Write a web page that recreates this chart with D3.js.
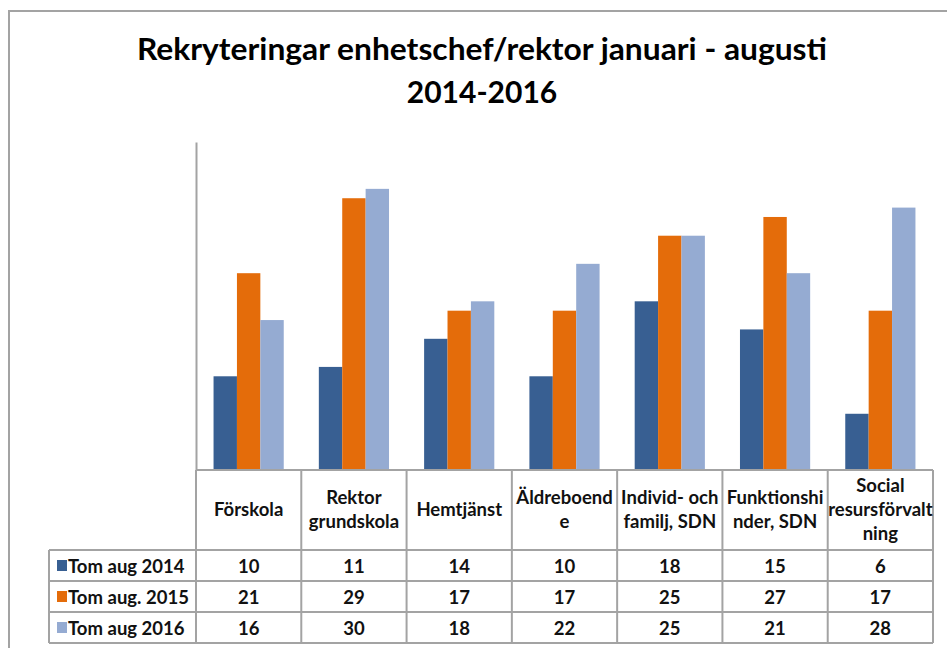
<!DOCTYPE html>
<html>
<head>
<meta charset="utf-8">
<script src="https://cdn.jsdelivr.net/npm/d3@7"></script>
<style>
  body { margin: 0; background: #fff; }
  text { font-family: Lato, "Open Sans", sans-serif; }
</style>
</head>
<body>
<div id="chart"></div>
<script>

var W = 947, H = 648

// categories (full names) and how they wrap in the table header
var categories = ["Förskola", "Rektor grundskola", "Hemtjänst", "Äldreboende", "Individ- och familj, SDN", "Funktionshinder, SDN", "Social resursförvaltning"]
var headerLines = [["Förskola"], ["Rektor", "grundskola"], ["Hemtjänst"], ["Äldreboend", "e"], ["Individ- och", "familj, SDN"], ["Funktionshi", "nder, SDN"], ["Social", "resursförvalt", "ning"]]

var seriesNames = ["Tom aug 2014", "Tom aug. 2015", "Tom aug 2016"]
var v2014 = [10, 11, 14, 10, 18, 15, 6]
var v2015 = [21, 29, 17, 17, 25, 27, 17]
var v2016 = [16, 30, 18, 22, 25, 21, 28]
var seriesValues = [v2014, v2015, v2016]

var color = d3.scaleOrdinal()
  .domain(seriesNames)
  .range(["#385f92", "#e46c0a", "#95abd2"])

var lineColor = "#a3a3a3"

var svg = d3.select("#chart").append("svg")
  .attr("width", W)
  .attr("height", H)

// outer chart frame (runs off the right and bottom of the crop)
svg.append("path")
  .attr("d", "M9," + (H + 5) + "V11H" + (W + 5))
  .attr("fill", "none")
  .attr("stroke", lineColor)
  .attr("stroke-width", 2)

// title
svg.append("text")
  .attr("x", 482).attr("y", 60)
  .attr("text-anchor", "middle")
  .attr("font-size", 30).attr("font-weight", 700)
  .attr("textLength", 690).attr("lengthAdjust", "spacingAndGlyphs")
  .text("Rekryteringar enhetschef/rektor januari - augusti")
svg.append("text")
  .attr("x", 482).attr("y", 103)
  .attr("text-anchor", "middle")
  .attr("font-size", 30).attr("font-weight", 700)
  .text("2014-2016")

var x = d3.scaleBand()
  .domain(categories)
  .range([196, 933])

var x1 = d3.scaleBand()
  .domain(seriesNames)
  .range([x.bandwidth() / 6, x.bandwidth() * 5 / 6])

var y = d3.scaleLinear()
  .domain([0, 35])
  .range([470, 142])

var rows = seriesNames.map(function (s, i) {
  return { name: s, values: seriesValues[i] }
})

// bars
var groups = svg.selectAll(".series")
  .data(rows)
  .enter().append("g")
  .attr("class", "series")
  .attr("fill", d => color(d.name))

groups.selectAll("rect")
  .data(d => d.values.map((v, j) => ({ name: d.name, cat: categories[j], v: v })))
  .enter().append("rect")
  .attr("x", d => x(d.cat) + x1(d.name))
  .attr("width", x1.bandwidth())
  .attr("y", d => y(d.v))
  .attr("height", d => y(0) - y(d.v))

// value axis line (no ticks)
svg.append("g")
  .attr("transform", "translate(196,0)")
  .call(d3.axisLeft(y).tickValues([]).tickSizeOuter(0))
  .select(".domain").attr("stroke", lineColor).attr("stroke-width", 2)

// data table
var rowH = 31
var headTop = 470, headBottom = 550
var legLeft = 49

var grid = svg.append("g")
  .attr("fill", "none")
  .attr("stroke", lineColor)
  .attr("stroke-width", 2)

// horizontal lines
grid.append("line").attr("x1", 196).attr("x2", 933).attr("y1", headTop).attr("y2", headTop)
d3.range(seriesNames.length + 1).forEach(function (i) {
  var yy = headBottom + i * rowH
  grid.append("line").attr("x1", legLeft).attr("x2", 933).attr("y1", yy).attr("y2", yy)
})
// vertical lines
categories.forEach(function (c) {
  grid.append("line").attr("x1", x(c)).attr("x2", x(c)).attr("y1", headTop).attr("y2", headBottom + rowH * 3)
})
grid.append("line").attr("x1", 933).attr("x2", 933).attr("y1", headTop).attr("y2", headBottom + rowH * 3)
grid.append("line").attr("x1", legLeft).attr("x2", legLeft).attr("y1", headBottom).attr("y2", headBottom + rowH * 3)

// header labels
var lh = 24
categories.forEach(function (c, j) {
  var lines = headerLines[j]
  var cy = (headTop + headBottom) / 2 - (lines.length - 1) * lh / 2
  var t = svg.append("text")
    .attr("x", x(c) + x.bandwidth() / 2)
    .attr("text-anchor", "middle")
    .attr("font-size", 18.5).attr("font-weight", 700)
    .attr("fill", "#111")
  lines.forEach(function (l, k) {
    t.append("tspan")
      .attr("x", x(c) + x.bandwidth() / 2)
      .attr("y", cy + k * lh + 6)
      .text(l)
  })
})

// legend column + values
rows.forEach(function (r, i) {
  var top = headBottom + i * rowH
  svg.append("rect")
    .attr("x", 57).attr("y", top + 10)
    .attr("width", 10).attr("height", 11)
    .attr("fill", color(r.name))
  svg.append("text")
    .attr("x", 68).attr("y", top + rowH / 2 + 7)
    .attr("font-size", 18.5).attr("font-weight", 700)
    .attr("fill", "#111")
    .text(r.name)
  r.values.forEach(function (v, j) {
    svg.append("text")
      .attr("x", x(categories[j]) + x.bandwidth() / 2)
      .attr("y", top + rowH / 2 + 7)
      .attr("text-anchor", "middle")
      .attr("font-size", 18.5).attr("font-weight", 700)
      .attr("fill", "#111")
      .text(v)
  })
})

</script>
</body>
</html>
